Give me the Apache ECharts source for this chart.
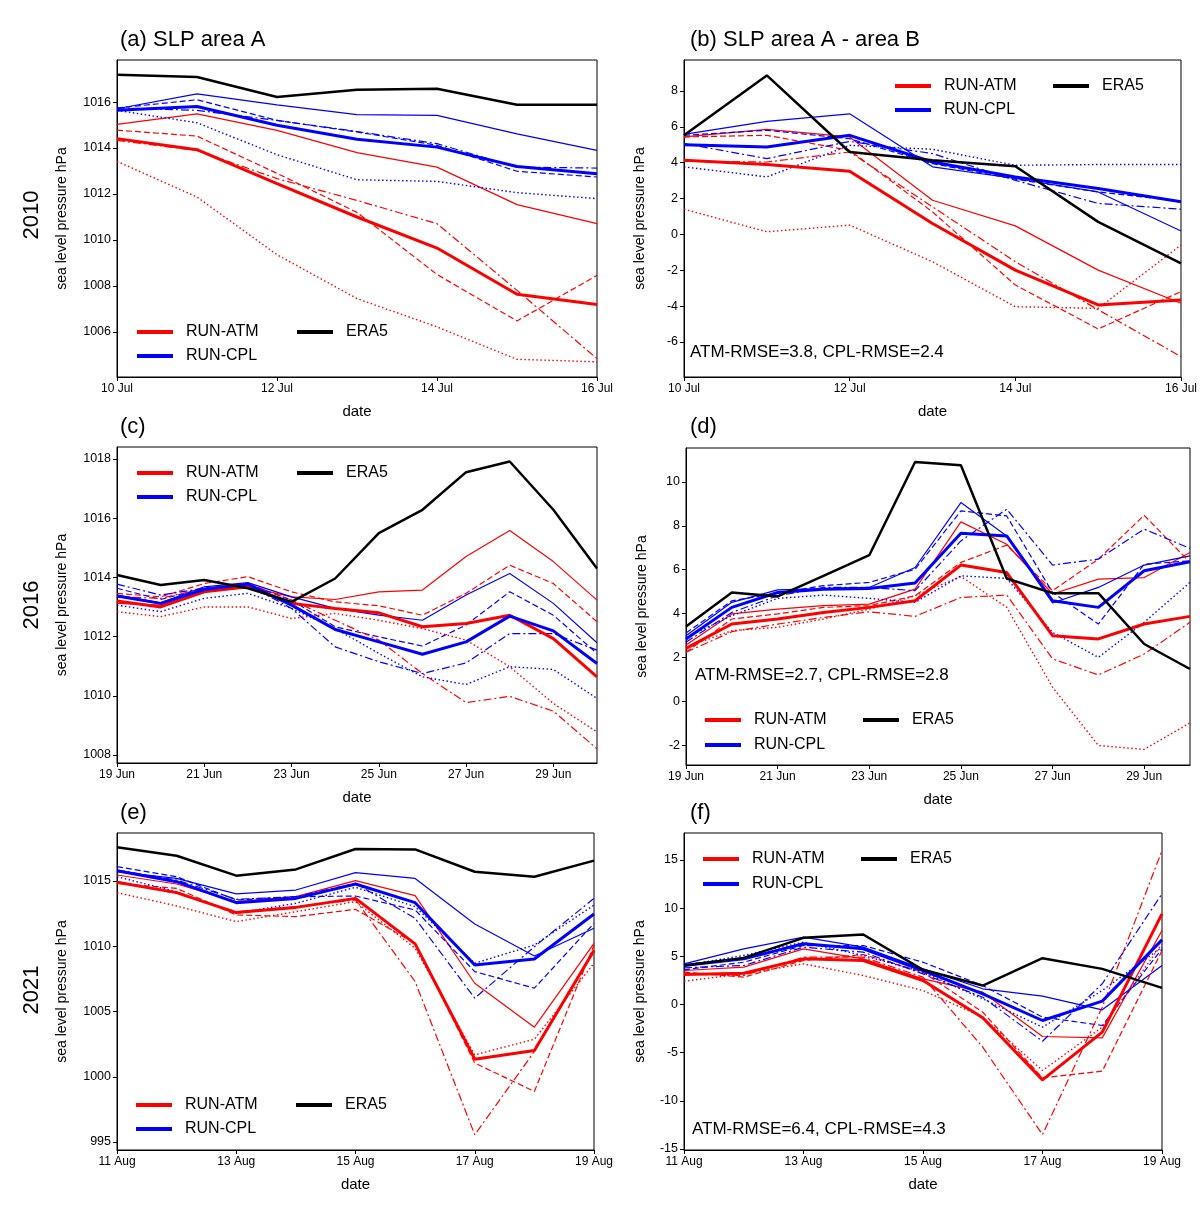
<!DOCTYPE html>
<html><head><meta charset="utf-8">
<script src="https://cdn.jsdelivr.net/npm/echarts@6/dist/echarts.min.js"></script>
<style>html,body{margin:0;padding:0;background:#fff}#c{width:1200px;height:1213px}</style>
</head><body><div id="c"></div>
<script>
// ---- dates ----
const datesA = ['10 Jul','11 Jul','12 Jul','13 Jul','14 Jul','15 Jul','16 Jul'];
const datesC = ['19 Jun','20 Jun','21 Jun','22 Jun','23 Jun','24 Jun','25 Jun','26 Jun','27 Jun','28 Jun','29 Jun','30 Jun'];
const datesE = ['11 Aug','12 Aug','13 Aug','14 Aug','15 Aug','16 Aug','17 Aug','18 Aug','19 Aug'];
// ---- tick labels ----
const ticksA = [1006,1008,1010,1012,1014,1016];
const ticksB = [-6,-4,-2,0,2,4,6,8];
const ticksC = [1008,1010,1012,1014,1016,1018];
const ticksD = [-2,0,2,4,6,8,10];
const ticksE = [995,1000,1005,1010,1015];
const ticksF = [-15,-10,-5,0,5,10,15];
// ---- panel a ----
const a_era5 = [1017.19,1017.09,1016.22,1016.54,1016.58,1015.88,1015.88];
const a_atm_mean = [1014.41,1013.93,1012.45,1011.0,1009.65,1007.64,1007.19];
const a_atm_solid = [1015.03,1015.49,1014.77,1013.80,1013.17,1011.54,1010.71];
const a_atm_dash = [1014.78,1014.52,1012.9,1011.2,1008.5,1006.48,1008.46];
const a_atm_dashdot = [1014.33,1013.9,1012.67,1011.72,1010.71,1007.81,1004.84];
const a_atm_dot = [1013.42,1011.87,1009.36,1007.45,1006.22,1004.81,1004.70];
const a_cpl_mean = [1015.64,1015.81,1014.99,1014.38,1014.04,1013.2,1012.88];
const a_cpl_solid = [1015.71,1016.36,1015.88,1015.45,1015.42,1014.62,1013.9];
const a_cpl_dash = [1015.74,1016.1,1015.2,1014.7,1014.12,1012.99,1012.74];
const a_cpl_dashdot = [1015.75,1015.64,1015.2,1014.72,1014.19,1013.17,1013.13];
const a_cpl_dot = [1015.64,1015.1,1013.71,1012.62,1012.55,1012.06,1011.8];
// ---- panel b ----
const b_era5 = [5.53,8.87,4.6,4.14,3.80,0.7,-1.61];
const b_atm_mean = [4.14,3.9,3.53,0.61,-1.99,-3.93,-3.65];
const b_atm_solid = [5.44,5.86,5.44,1.91,0.48,-1.99,-3.84];
const b_atm_dash = [5.44,5.53,4.69,1.26,-2.82,-5.27,-3.19];
const b_atm_dashdot = [4.08,4.04,4.6,1.54,-1.52,-4.2,-6.81];
const b_atm_dot = [1.41,0.15,0.52,-1.52,-4.03,-4.12,-0.59];
const b_cpl_mean = [5.0,4.88,5.53,4.04,3.21,2.56,1.82];
const b_cpl_solid = [5.58,6.31,6.73,3.77,3.12,2.37,0.19];
const b_cpl_dash = [5.53,5.81,5.34,3.95,3.08,2.37,1.86];
const b_cpl_dashdot = [5.07,4.23,5.19,4.51,3.02,1.73,1.41];
const b_cpl_dot = [3.77,3.21,4.97,4.75,3.86,3.9,3.9];
// ---- panel c ----
const c_era5 = [1014.08,1013.74,1013.91,1013.63,1013.17,1013.96,1015.49,1016.28,1017.55,1017.91,1016.28,1014.3];
const c_atm_mean = [1013.2,1013.0,1013.51,1013.68,1013.12,1012.95,1012.8,1012.33,1012.44,1012.72,1011.93,1010.64];
const c_atm_solid = [1013.12,1013.06,1013.57,1013.68,1013.34,1013.25,1013.51,1013.57,1014.7,1015.58,1014.53,1013.23];
const c_atm_dash = [1013.46,1013.34,1013.79,1014.02,1013.51,1013.17,1013.04,1012.72,1013.46,1014.41,1013.79,1012.5];
const c_atm_dashdot = [1013.34,1013.29,1013.63,1013.79,1013.23,1012.55,1011.88,1010.75,1009.77,1009.98,1009.48,1008.21];
const c_atm_dot = [1012.84,1012.67,1013.0,1013.0,1012.61,1012.78,1012.55,1012.27,1011.88,1010.98,1009.74,1008.78];
const c_cpl_mean = [1013.37,1013.12,1013.59,1013.77,1013.06,1012.24,1011.82,1011.4,1011.82,1012.69,1012.19,1011.09];
const c_cpl_solid = [1013.4,1013.14,1013.68,1013.82,1013.34,1012.95,1012.72,1012.55,1013.4,1014.13,1013.12,1011.79];
const c_cpl_dash = [1013.63,1013.25,1013.63,1013.77,1013.23,1012.33,1011.99,1011.68,1012.39,1013.51,1012.72,1011.43];
const c_cpl_dashdot = [1013.77,1013.4,1013.63,1013.74,1012.95,1011.65,1011.15,1010.75,1011.11,1012.1,1012.1,1011.54];
const c_cpl_dot = [1013.06,1012.84,1013.29,1013.46,1012.95,1012.27,1011.43,1010.64,1010.38,1010.98,1010.89,1009.91];
// ---- panel d ----
const d_era5 = [3.41,4.96,4.78,5.72,6.66,10.91,10.76,5.6,4.93,4.93,2.61,1.47];
const d_atm_mean = [2.41,3.52,3.75,4.05,4.28,4.58,6.21,5.87,2.99,2.84,3.52,3.87];
const d_atm_solid = [2.56,3.98,4.2,4.36,4.43,5.11,8.18,7.16,4.89,5.57,5.64,6.78];
const d_atm_dash = [2.23,3.75,3.98,4.28,4.36,4.81,6.33,7.12,5.04,6.48,8.48,6.33];
const d_atm_dashdot = [2.23,3.17,3.52,3.82,4.08,3.87,4.73,4.84,1.93,1.2,2.15,3.6];
const d_atm_dot = [2.46,3.22,3.37,3.75,4.2,4.81,5.69,4.28,0.64,-2.02,-2.2,-0.99];
const d_cpl_mean = [2.84,4.28,4.96,5.11,5.14,5.39,7.66,7.54,4.58,4.28,5.95,6.36];
const d_cpl_solid = [2.99,4.51,5.08,5.14,5.19,6.1,9.06,7.54,4.48,5.19,6.21,6.63];
const d_cpl_dash = [3.11,4.58,4.93,5.27,5.42,6.02,8.68,8.45,4.96,3.52,6.25,6.4];
const d_cpl_dashdot = [2.69,4.05,4.81,5.19,5.19,5.04,7.31,8.76,6.21,6.48,7.85,6.97];
const d_cpl_dot = [2.91,3.9,4.69,4.84,4.69,4.51,5.72,5.6,3.14,2.0,3.6,5.42];
// ---- panel e ----
const e_era5 = [1017.58,1016.94,1015.41,1015.89,1017.45,1017.42,1015.71,1015.33,1016.56];
const e_atm_mean = [1014.9,1014.11,1012.58,1012.98,1013.67,1010.18,1001.35,1002.02,1009.67];
const e_atm_solid = [1015.46,1014.77,1013.42,1013.8,1015.03,1013.88,1007.17,1003.8,1010.23];
const e_atm_dash = [1014.82,1014.44,1012.4,1012.27,1012.83,1010.23,1001.05,998.88,1010.1];
const e_atm_dashdot = [1014.95,1014.06,1012.65,1013.04,1013.55,1007.3,995.56,1001.94,1009.72];
const e_atm_dot = [1014.11,1013.09,1011.89,1012.65,1013.42,1009.85,1001.68,1002.88,1008.7];
const e_cpl_mean = [1015.79,1014.95,1013.34,1013.67,1014.77,1013.34,1008.57,1009.03,1012.47];
const e_cpl_solid = [1015.71,1015.2,1014.01,1014.31,1015.64,1015.2,1011.71,1009.26,1011.38];
const e_cpl_dash = [1016.1,1015.33,1013.55,1013.8,1013.85,1012.78,1008.06,1006.79,1011.76];
const e_cpl_dashdot = [1015.84,1015.08,1013.6,1013.8,1014.82,1012.14,1006.02,1009.97,1013.67];
const e_cpl_dot = [1015.33,1014.18,1012.53,1013.29,1014.52,1013.04,1008.7,1010.1,1013.16];
// ---- panel f ----
const f_era5 = [4.05,4.84,6.92,7.27,3.6,1.97,4.81,3.7,1.73];
const f_atm_mean = [3.11,3.25,4.74,4.57,2.49,-1.38,-7.82,-2.87,9.41];
const f_atm_solid = [3.53,3.88,5.78,4.74,2.66,1.28,-3.32,-3.46,7.68];
const f_atm_dash = [3.36,2.84,4.57,5.19,3.36,-0.8,-7.61,-6.92,5.6];
const f_atm_dashdot = [3.18,3.01,4.91,4.91,2.84,-4.43,-13.5,-0.28,15.99];
const f_atm_dot = [2.42,3.18,4.22,3.01,1.45,-1.31,-6.85,-2.35,6.3];
const f_cpl_mean = [4.05,4.74,6.3,5.78,3.53,1.11,-1.66,0.35,6.71];
const f_cpl_solid = [4.22,5.78,6.99,5.95,3.7,1.63,0.87,-0.55,4.05];
const f_cpl_dash = [3.6,4.39,6.12,6.12,4.39,1.97,-1.31,-2.18,5.78];
const f_cpl_dashdot = [3.81,4.05,5.95,5.43,3.18,0.76,-3.81,2.15,11.49];
const f_cpl_dot = [4.05,5.09,6.47,5.09,3.36,0.59,-2.35,1.45,5.95];

const FONT = 'Liberation Sans';
const panels = [
  {g:{left:117,top:60,width:480,height:317}, dates:datesA, ticks:ticksA, ymin:1004.04, ymax:1017.83,
   d:[a_era5,a_atm_mean,a_atm_solid,a_atm_dash,a_atm_dashdot,a_atm_dot,a_cpl_mean,a_cpl_solid,a_cpl_dash,a_cpl_dashdot,a_cpl_dot],
   leg:[132,328,292,352], title:'(a) SLP area A', tx:120, ty:42},
  {g:{left:684,top:60,width:506,height:317}, dates:datesA, ticks:ticksB, ymin:-7.95, ymax:9.73,
   d:[b_era5,b_atm_mean,b_atm_solid,b_atm_dash,b_atm_dashdot,b_atm_dot,b_cpl_mean,b_cpl_solid,b_cpl_dash,b_cpl_dashdot,b_cpl_dot],
   leg:[890,82,1048,106], title:'(b) SLP area A - area B', tx:690, ty:42, rmse:'ATM-RMSE=3.8, CPL-RMSE=2.4', rx:690, ry:355},
  {g:{left:117,top:447,width:480,height:316}, dates:datesC, ticks:ticksC, ymin:1007.73, ymax:1018.4,
   d:[c_era5,c_atm_mean,c_atm_solid,c_atm_dash,c_atm_dashdot,c_atm_dot,c_cpl_mean,c_cpl_solid,c_cpl_dash,c_cpl_dashdot,c_cpl_dot],
   leg:[132,469,292,493], title:'(c)', tx:120, ty:429},
  {g:{left:686,top:448,width:504,height:317}, dates:datesC, ticks:ticksD, ymin:-2.91, ymax:11.55,
   d:[d_era5,d_atm_mean,d_atm_solid,d_atm_dash,d_atm_dashdot,d_atm_dot,d_cpl_mean,d_cpl_solid,d_cpl_dash,d_cpl_dashdot,d_cpl_dot],
   leg:[700,716,858,741], title:'(d)', tx:690, ty:429, rmse:'ATM-RMSE=2.7, CPL-RMSE=2.8', rx:695, ry:678},
  {g:{left:117,top:833,width:477,height:317}, dates:datesE, ticks:ticksE, ymin:994.39, ymax:1018.68,
   d:[e_era5,e_atm_mean,e_atm_solid,e_atm_dash,e_atm_dashdot,e_atm_dot,e_cpl_mean,e_cpl_solid,e_cpl_dash,e_cpl_dashdot,e_cpl_dot],
   leg:[131,1101,291,1125], title:'(e)', tx:120, ty:815},
  {g:{left:684,top:833,width:478,height:317}, dates:datesE, ticks:ticksF, ymin:-15.1, ymax:17.8,
   d:[f_era5,f_atm_mean,f_atm_solid,f_atm_dash,f_atm_dashdot,f_atm_dot,f_cpl_mean,f_cpl_solid,f_cpl_dash,f_cpl_dashdot,f_cpl_dot],
   leg:[698,855,856,880], title:'(f)', tx:690, ty:815, rmse:'ATM-RMSE=6.4, CPL-RMSE=4.3', rx:692, ry:1132}
];
const styles = [
  {type:'solid', w:1.2}, {type:[6,3], w:1.2}, {type:[8,3,2,3], w:1.2}, {type:[1.5,2.5], w:1.4}
];
const grid=[], xAxis=[], yAxis=[], series=[], legend=[], graphic=[];
panels.forEach((p,i)=>{
  grid.push(Object.assign({show:true,borderColor:'#000',borderWidth:1,containLabel:false}, p.g));
  const dates=p.dates;
  xAxis.push({type:'value', gridIndex:i, min:0, max:dates.length-1, interval:2,
    name:'date', nameLocation:'middle', nameGap:27, nameTextStyle:{fontFamily:FONT,fontSize:15,color:'#000'},
    axisLine:{onZero:false,lineStyle:{color:'#000'}}, axisTick:{lineStyle:{color:'#000'},length:4},
    axisLabel:{fontFamily:FONT,fontSize:12,color:'#000',margin:6,showMaxLabel:(dates.length-1)%2===0, formatter:v=>dates[v]||''},
    splitLine:{show:false}});
  yAxis.push({type:'value', gridIndex:i, min:p.ymin, max:p.ymax,
    name:'sea level pressure hPa', nameLocation:'middle', nameGap:(i%2===0?48:37), nameTextStyle:{fontFamily:FONT,fontSize:14,color:'#000'},
    axisLine:{onZero:false,lineStyle:{color:'#000'}}, axisTick:{lineStyle:{color:'#000'},length:4,customValues:p.ticks},
    axisLabel:{fontFamily:FONT,fontSize:12.5,color:'#000',margin:6,customValues:p.ticks,formatter:v=>String(Math.round(v))},
    splitLine:{show:false}});
  const mk=(name,arr,color,width,type,z)=>series.push({type:'line',name,xAxisIndex:i,yAxisIndex:i,
    data:arr.map((v,k)=>[k,v]),showSymbol:false,symbol:'none',silent:true,animation:false,
    lineStyle:{color,width,type},itemStyle:{color},z});
  for(let m=0;m<4;m++){
    mk('atm-member',p.d[2+m],'#ff0000',styles[m].w,styles[m].type,2);
    mk('cpl-member',p.d[7+m],'#0000ff',styles[m].w,styles[m].type,2);
  }
  mk('RUN-ATM',p.d[1],'#ff0000',3,'solid',3);
  mk('RUN-CPL',p.d[6],'#0000ff',3,'solid',3);
  mk('ERA5',p.d[0],'#000000',2.5,'solid',4);
  const L=p.leg;
  [['RUN-ATM',L[0],L[1]],['ERA5',L[2],L[1]],['RUN-CPL',L[0],L[3]]].forEach(([n,x,y])=>{
    legend.push({data:[n],left:x,top:y-9,icon:'rect',itemWidth:36,itemHeight:4,selectedMode:false,
      textStyle:{fontFamily:FONT,fontSize:16,color:'#000',padding:[0,0,0,8]}});
  });
  graphic.push({type:'text',left:p.tx,top:p.ty-13,style:{text:p.title,fontFamily:FONT,fontSize:22,fill:'#000'}});
  if(p.rmse) graphic.push({type:'text',left:p.rx,top:p.ry-11,style:{text:p.rmse,fontFamily:FONT,fontSize:17,fill:'#000'}});
});
[['2010',215],['2016',605],['2021',990]].forEach(([t,y])=>{
  graphic.push({type:'text',x:32,y:y,rotation:Math.PI/2,style:{text:t,fontFamily:FONT,fontSize:22,fill:'#000',align:'center',verticalAlign:'middle'}});
});
const chart=echarts.init(document.getElementById('c'),null,{renderer:'canvas'});
chart.setOption({backgroundColor:'#fff',animation:false,grid,xAxis,yAxis,series,legend,graphic});
</script></body></html>
